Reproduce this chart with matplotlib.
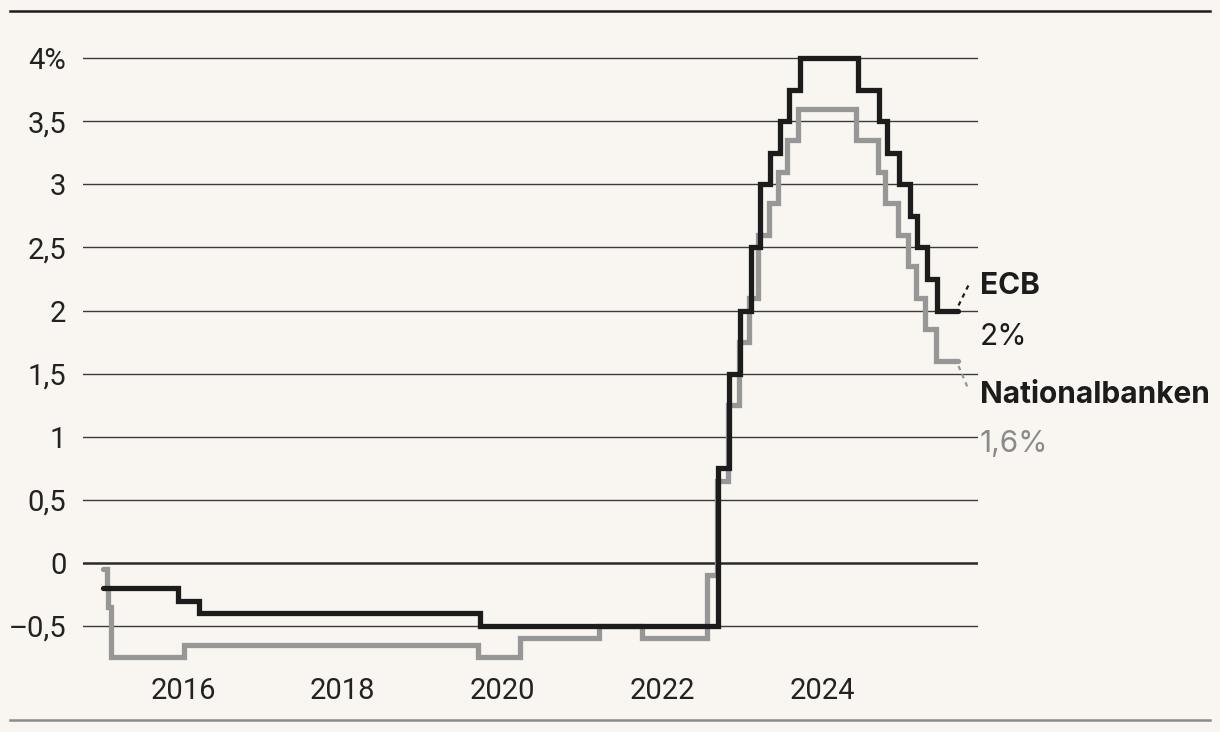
import matplotlib
matplotlib.use('Agg')
import matplotlib.pyplot as plt
import matplotlib.dates as mdates
import matplotlib.transforms as mtransforms
import numpy as np
from datetime import datetime

# ECB deposit rate (black) and Nationalbanken current-account rate (gray)
ecb_dates = ['2015-01-01', '2015-12-09', '2016-03-16', '2019-09-18', '2022-09-14',
             '2022-11-02', '2022-12-21', '2023-02-08', '2023-03-22', '2023-05-10',
             '2023-06-21', '2023-08-02', '2023-09-20', '2024-06-12', '2024-09-18',
             '2024-10-23', '2024-12-18', '2025-02-05', '2025-03-12', '2025-04-23',
             '2025-06-11']
ecb_rates = [-0.2, -0.3, -0.4, -0.5, 0.75, 1.5, 2.0, 2.5, 3.0, 3.25, 3.5, 3.75, 4.0,
             3.75, 3.5, 3.25, 3.0, 2.75, 2.5, 2.25, 2.0]

dk_dates = ['2015-01-01', '2015-01-19', '2015-01-22', '2015-02-05', '2016-01-07',
            '2019-09-13', '2020-03-20', '2021-03-19', '2021-09-30', '2022-07-22',
            '2022-09-08', '2022-10-27', '2022-12-15', '2023-02-02', '2023-03-16',
            '2023-05-04', '2023-06-15', '2023-07-27', '2023-09-14', '2024-06-06',
            '2024-09-12', '2024-10-17', '2024-12-12', '2025-01-30', '2025-03-06',
            '2025-04-17', '2025-06-05']
dk_rates = [-0.05, -0.2, -0.35, -0.75, -0.65, -0.75, -0.6, -0.5, -0.6, -0.1, 0.65,
            1.25, 1.75, 2.1, 2.6, 2.85, 3.1, 3.35, 3.6, 3.35, 3.1, 2.85, 2.6, 2.35,
            2.1, 1.85, 1.6]
end_date = '2025-09-12'

y_ticks = [-0.5, 0, 0.5, 1, 1.5, 2, 2.5, 3, 3.5, 4]
y_labels = ['\u20130,5', '0', '0,5', '1', '1,5', '2', '2,5', '3', '3,5', '4%']
x_years = [2016, 2018, 2020, 2022, 2024]

BG = '#f9f6f1'
BLACK = '#1c1c1c'
GRAY = '#979797'
FONT = ['Roboto', 'DejaVu Sans']
LABEL_FONT = ['Inter', 'DejaVu Sans']
plt.rcParams['font.family'] = FONT


def to_num(dates):
    return mdates.date2num([datetime.strptime(d, '%Y-%m-%d') for d in dates])


fig = plt.figure(figsize=(12.2, 7.32), dpi=100, facecolor=BG)
ax = fig.add_axes([83 / 1220, 1 - 670 / 732, (978 - 83) / 1220, (670 - 33) / 732])
ax.set_facecolor(BG)

for v in y_ticks:
    if v == 0:
        ax.axhline(v, color='#2a2a2a', lw=1.8, zorder=1)
    else:
        ax.axhline(v, color='#3a3a3a', lw=1.0, zorder=1)

x_dk = np.append(to_num(dk_dates), to_num([end_date]))
y_dk = np.append(dk_rates, dk_rates[-1])
x_ecb = np.append(to_num(ecb_dates), to_num([end_date]))
y_ecb = np.append(ecb_rates, ecb_rates[-1])

ax.step(x_dk, y_dk, where='post', color=GRAY, lw=3.8, zorder=2,
        solid_joinstyle='miter', solid_capstyle='round')
ax.step(x_ecb, y_ecb, where='post', color=BLACK, lw=3.8, zorder=3,
        solid_joinstyle='miter', solid_capstyle='round')

ax.set_xlim(mdates.date2num(datetime(2014, 10, 1)), mdates.date2num(datetime(2025, 12, 14)))
ax.set_ylim(-0.85, 4.2)

ax.set_yticks(y_ticks)
ax.set_yticklabels(y_labels)
ax.set_xticks(mdates.date2num([datetime(y, 1, 1) for y in x_years]))
ax.set_xticklabels([str(y) for y in x_years])
ax.tick_params(axis='both', length=0, labelsize=21, colors='#222222')
ax.tick_params(axis='y', pad=12)
ax.tick_params(axis='x', pad=5)
for s in ax.spines.values():
    s.set_visible(False)

# end labels with dotted connectors
x_end = to_num([end_date])[0]
ax.plot([x_end + 4, x_end + 55], [2.04, 2.22], color=BLACK, lw=1.6,
        ls=(0, (2, 2)), zorder=3, clip_on=False)
ax.plot([x_end + 4, x_end + 48], [1.56, 1.38], color=GRAY, lw=1.6,
        ls=(0, (2, 2)), zorder=3, clip_on=False)

trans = mtransforms.blended_transform_factory(ax.transAxes, ax.transData)
tx = 1.002
ax.text(tx, 2.13, 'ECB', transform=trans, fontsize=21.5, fontweight='bold',
        family=LABEL_FONT, color=BLACK, va='baseline', ha='left')
ax.text(tx, 1.73, '2%', transform=trans, fontsize=21.5, family=LABEL_FONT,
        color=BLACK, va='baseline', ha='left')
ax.text(tx, 1.27, 'Nationalbanken', transform=trans, fontsize=21.5,
        fontweight='bold', family=LABEL_FONT, color=BLACK, va='baseline', ha='left')
ax.text(tx, 0.88, '1,6%', transform=trans, fontsize=21.5, family=LABEL_FONT,
        color='#8a8a8a', va='baseline', ha='left')

# frame rules at top and bottom
fig.add_artist(plt.Line2D([10 / 1220, 1210 / 1220], [1 - 11 / 732, 1 - 11 / 732],
                          color=BLACK, lw=1.8))
fig.add_artist(plt.Line2D([10 / 1220, 1210 / 1220], [1 - 720 / 732, 1 - 720 / 732],
                          color='#8c8c8c', lw=1.8))

fig.savefig('out.png', dpi=100, facecolor=BG)
